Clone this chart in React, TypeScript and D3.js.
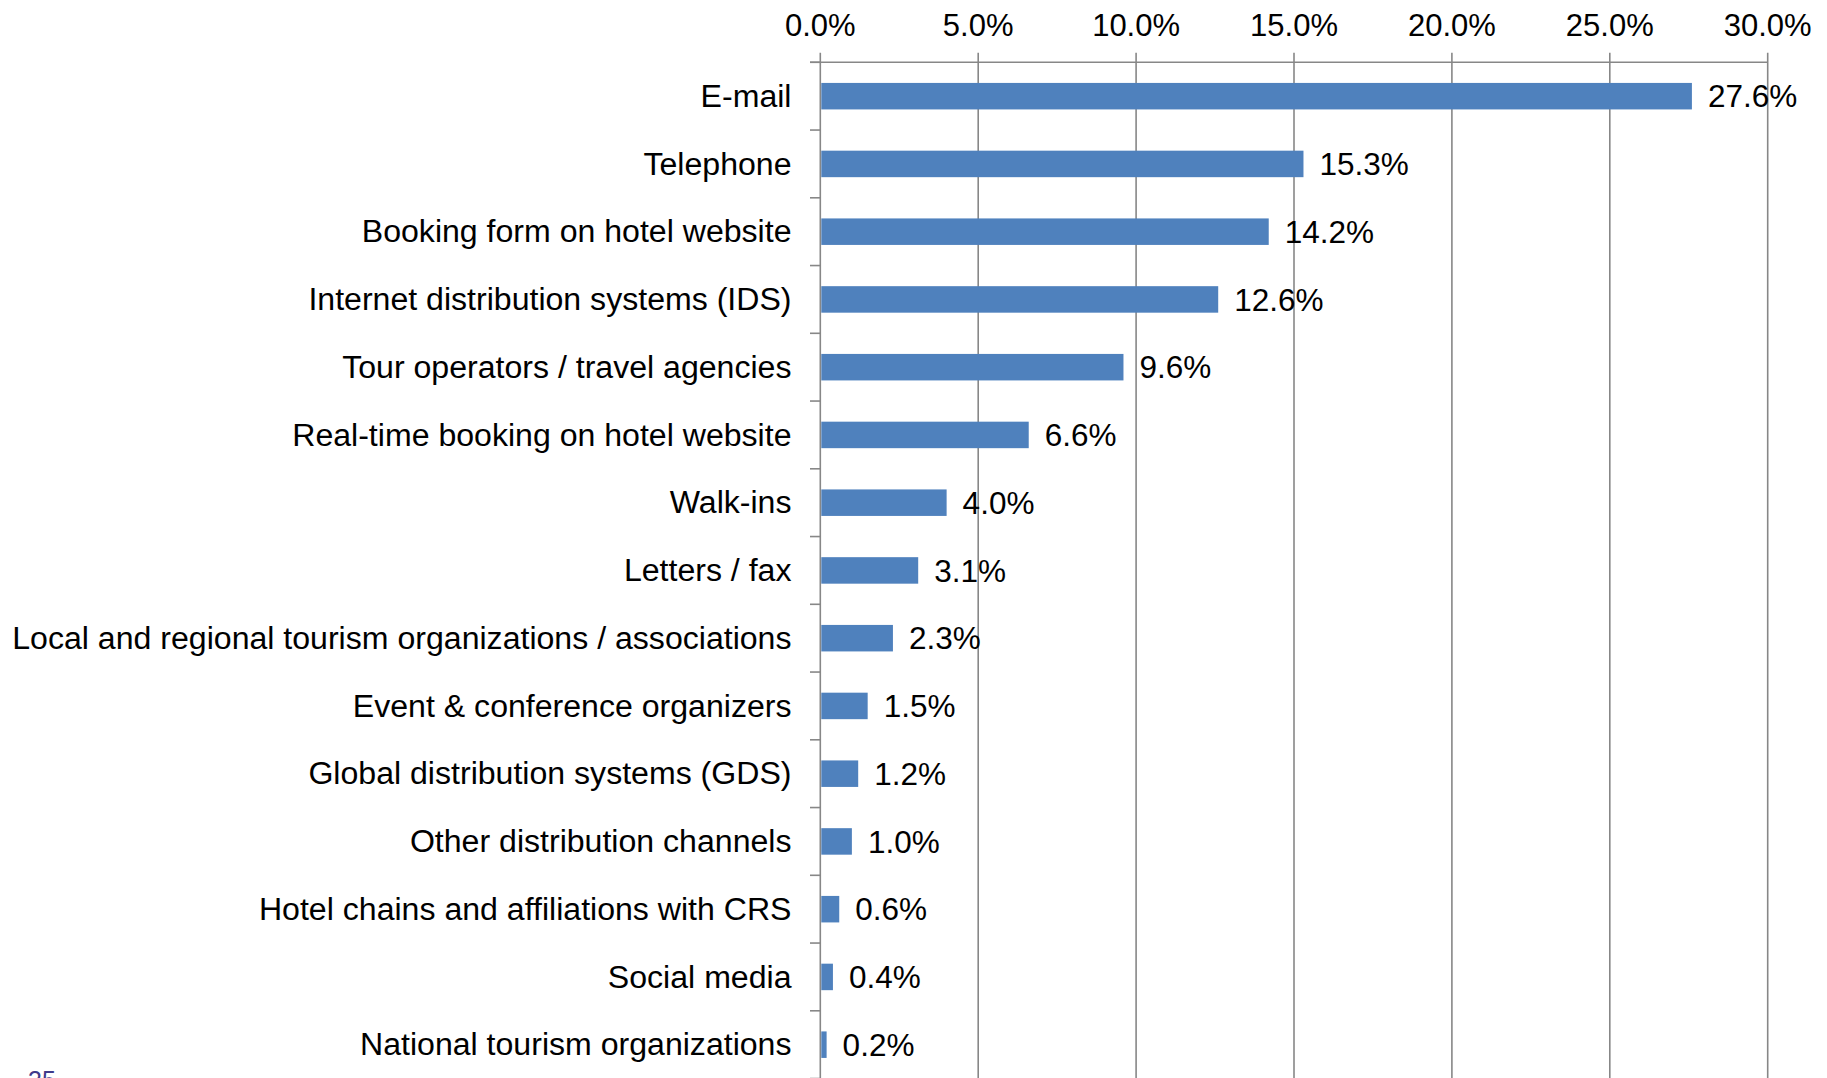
import React, { useEffect } from "react";
import * as d3 from "d3";

const categories: string[] = [
  "E-mail",
  "Telephone",
  "Booking form on hotel website",
  "Internet distribution systems (IDS)",
  "Tour operators / travel agencies",
  "Real-time booking on hotel website",
  "Walk-ins",
  "Letters / fax",
  "Local and regional tourism organizations / associations",
  "Event & conference organizers",
  "Global distribution systems (GDS)",
  "Other distribution channels",
  "Hotel chains and affiliations with CRS",
  "Social media",
  "National tourism organizations",
];

const values: number[] = [27.6, 15.3, 14.2, 12.6, 9.6, 6.6, 4.0, 3.1, 2.3, 1.5, 1.2, 1.0, 0.6, 0.4, 0.2];

const xTicks: number[] = [0, 5, 10, 15, 20, 25, 30];

const pageNumber = "35";

const W = 1827;
const H = 1078;
const FONT = "'Liberation Sans', Arial, sans-serif";

export default function App() {
  useEffect(() => {
    document.body.style.margin = "0";
  }, []);

  const x0 = 820.3;
  const x1 = 1767.7;
  const yTop = 62.3;
  const step = 67.75;

  const x = d3.scaleLinear().domain([0, 30]).range([x0, x1]);
  const y = d3
    .scaleBand<string>()
    .domain(categories)
    .range([yTop, yTop + step * categories.length])
    .paddingInner(0)
    .paddingOuter(0);

  const barH = 26.5;
  const grid = "#878787";
  const fs = 31.5;
  const catFs = 32.1;

  return (
    <svg
      width={W}
      height={H}
      style={{ position: "absolute", left: 0, top: 0, background: "#fff", display: "block" }}
      fontFamily={FONT}
    >
      <rect x={0} y={0} width={W} height={H} fill="#fff" />
      {xTicks.map((t) => (
        <line key={"g" + t} x1={x(t)} x2={x(t)} y1={52.7} y2={H} stroke={grid} strokeWidth={1.6} />
      ))}
      <line x1={810} x2={x1} y1={yTop} y2={yTop} stroke={grid} strokeWidth={1.6} />
      {categories.map((c) => {
        const yy = y(c) as number;
        return <line key={"t" + c} x1={810} x2={x0} y1={yy} y2={yy} stroke={grid} strokeWidth={1.6} />;
      })}
      <line
        x1={810}
        x2={x0}
        y1={yTop + step * categories.length}
        y2={yTop + step * categories.length}
        stroke={grid}
        strokeWidth={1.6}
      />
      {xTicks.map((t) => (
        <text key={"l" + t} x={x(t)} y={35.7} textAnchor="middle" fontSize={31} fill="#000">
          {d3.format(".1f")(t) + "%"}
        </text>
      ))}
      {categories.map((c, i) => {
        const cy = (y(c) as number) + y.bandwidth() / 2;
        return (
          <g key={"b" + c}>
            <rect x={x(0) + 1} y={cy - barH / 2} width={x(values[i]) - x(0) - 1} height={barH} fill="#4f81bd" />
            <text x={x(values[i]) + 16} y={cy + 11.2} fontSize={fs} fill="#000">
              {d3.format(".1f")(values[i]) + "%"}
            </text>
            <text x={791.5} y={cy + 10.8} fontSize={catFs} textAnchor="end" fill="#000">
              {c}
            </text>
          </g>
        );
      })}
      <text x={28} y={1089} fontSize={25} fill="#3f3a8a">
        {pageNumber}
      </text>
    </svg>
  );
}
